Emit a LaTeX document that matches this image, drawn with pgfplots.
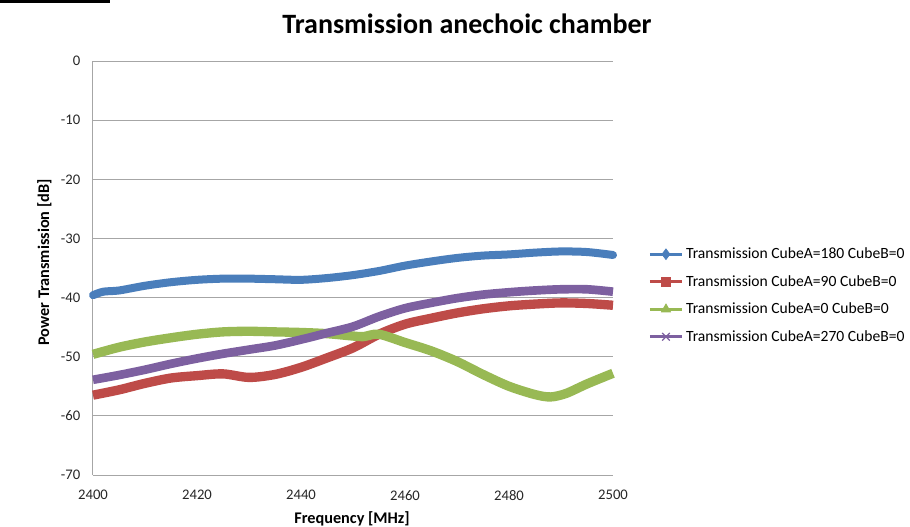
\documentclass[border=0pt]{standalone}
\usepackage{fontspec}
\setmainfont{Carlito}
\usepackage{pgfplots}
\pgfplotsset{compat=1.18}
\usepackage{pgfplotstable}
\definecolor{cblue}{HTML}{4A7EBB}
\definecolor{cred}{HTML}{BE4B48}
\definecolor{cgreen}{HTML}{98B954}
\definecolor{cpurple}{HTML}{7D60A0}
\definecolor{gridgray}{HTML}{A6A6A6}

\pgfplotstableread{
x y
2400 -39.6
2402 -39.0
2405 -38.8
2410 -38.0
2415 -37.4
2420 -37.0
2425 -36.8
2430 -36.8
2435 -36.9
2440 -37.0
2445 -36.7
2450 -36.2
2455 -35.5
2460 -34.6
2465 -33.9
2470 -33.3
2475 -32.9
2480 -32.7
2485 -32.4
2490 -32.2
2495 -32.3
2500 -32.8
}\blue

\pgfplotstableread{
x y
2400 -56.5
2405 -55.6
2410 -54.5
2415 -53.6
2420 -53.2
2425 -52.9
2430 -53.5
2435 -53.0
2440 -51.8
2445 -50.2
2450 -48.5
2455 -46.2
2460 -44.5
2465 -43.5
2470 -42.6
2475 -41.9
2480 -41.4
2485 -41.1
2490 -40.9
2495 -41.0
2500 -41.3
}\red

\pgfplotstableread{
x y
2400 -49.6
2405 -48.4
2410 -47.5
2415 -46.8
2420 -46.2
2425 -45.8
2430 -45.7
2435 -45.8
2440 -45.9
2445 -46.1
2450 -46.5
2452 -46.6
2455 -46.2
2460 -47.6
2465 -49.0
2470 -50.8
2475 -53.0
2480 -55.0
2485 -56.4
2488 -56.8
2491 -56.2
2495 -54.6
2500 -52.8
}\green

\pgfplotstableread{
x y
2400 -53.9
2405 -53.1
2410 -52.2
2415 -51.2
2420 -50.3
2425 -49.5
2430 -48.8
2435 -48.1
2440 -47.1
2445 -46.0
2450 -44.9
2455 -43.2
2460 -41.8
2465 -40.9
2470 -40.1
2475 -39.5
2480 -39.1
2485 -38.8
2490 -38.6
2495 -38.6
2500 -39.0
}\purple

\begin{document}
\begin{tikzpicture}
\path[use as bounding box] (-69.75pt,-38.25pt) rectangle (612.75pt,356.25pt);
\begin{axis}[
  scale only axis,
  width=390pt, height=310.5pt,
  xmin=2400, xmax=2500, ymin=-70, ymax=0,
  xtick={2400,2420,...,2500}, ytick={-70,-60,...,0},
  /pgf/number format/assume math mode=true,
  /pgf/number format/1000 sep={},
  major tick length=0pt,
  axis x line*=bottom, axis y line*=left,
  axis line style={-, gridgray, line width=0.75pt},
  ymajorgrids, grid style={gridgray, line width=0.75pt},
  tick label style={font=\fontsize{11}{13}\selectfont, text=black!85},
  yticklabel style={xshift=-6pt},
  xticklabel style={yshift=-8pt},
  clip=false,
  legend cell align=left,
  legend style={draw=none, fill=none, at={(1.06,0.4336)}, anchor=west,
    font=\fontsize{11.7}{14}\selectfont, row sep=7pt,
    /tikz/every even column/.append style={column sep=0pt}},
  legend image code/.code={\draw[mark repeat=2,mark phase=2,#1] plot coordinates {(0pt,0pt)(12pt,0pt)(24pt,0pt)};},
]
\addplot[cblue, line width=6pt, line join=round, line cap=round, smooth, forget plot] table {\blue};
\addplot[cred, line width=7pt, line join=round, smooth, forget plot] table {\red};
\addplot[cgreen, line width=7pt, line join=round, smooth, forget plot] table {\green};
\addplot[cpurple, line width=6.5pt, line join=round, smooth, forget plot] table {\purple};
\addlegendimage{cblue, line width=2.25pt, mark=diamond*, mark size=4pt, mark options={line width=0.5pt}}
\addlegendentry{Transmission CubeA=180 CubeB=0}
\addlegendimage{cred, line width=2.25pt, mark=square*, mark size=3.5pt, mark options={line width=0.5pt}}
\addlegendentry{Transmission CubeA=90 CubeB=0}
\addlegendimage{cgreen, line width=2.25pt, mark=triangle*, mark size=4pt, mark options={line width=0.5pt}}
\addlegendentry{Transmission CubeA=0 CubeB=0}
\addlegendimage{cpurple, line width=2.25pt, mark=x, mark size=4pt, mark options={line width=1pt}}
\addlegendentry{Transmission CubeA=270 CubeB=0}
\end{axis}
\fill[black] (-69.75pt,356.25pt) rectangle (12.75pt,354pt);
\node[font=\bfseries\fontsize{21}{25}\selectfont] at (280.5pt,338.25pt) {Transmission anechoic chamber};
\node[font=\bfseries\fontsize{12.2}{14}\selectfont, rotate=90] at (-36.4pt,159.4pt) {Power Transmission [dB]};
\node[font=\bfseries\fontsize{12.2}{14}\selectfont] at (194.25pt,-33pt) {Frequency [MHz]};
\end{tikzpicture}
\end{document}
